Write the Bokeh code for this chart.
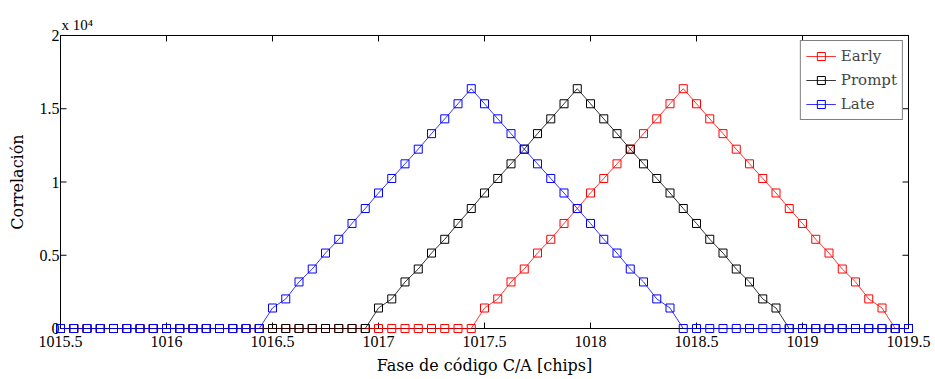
import math
from bokeh.plotting import figure
from bokeh.models import FixedTicker, Range1d, Legend, LegendItem, Title
from bokeh.embed import file_html
from bokeh.resources import INLINE

# ---------------- data ----------------
code_phase = [
    1015.5, 1015.5625, 1015.625, 1015.6875, 1015.75, 1015.8125, 1015.875, 1015.9375,
    1016.0, 1016.0625, 1016.125, 1016.1875, 1016.25, 1016.3125, 1016.375, 1016.4375,
    1016.5, 1016.5625, 1016.625, 1016.6875, 1016.75, 1016.8125, 1016.875, 1016.9375,
    1017.0, 1017.0625, 1017.125, 1017.1875, 1017.25, 1017.3125, 1017.375, 1017.4375,
    1017.5, 1017.5625, 1017.625, 1017.6875, 1017.75, 1017.8125, 1017.875, 1017.9375,
    1018.0, 1018.0625, 1018.125, 1018.1875, 1018.25, 1018.3125, 1018.375, 1018.4375,
    1018.5, 1018.5625, 1018.625, 1018.6875, 1018.75, 1018.8125, 1018.875, 1018.9375,
    1019.0, 1019.0625, 1019.125, 1019.1875, 1019.25, 1019.3125, 1019.375, 1019.4375,
    1019.5,
]

early = [
    0, 0, 0, 0, 0, 0, 0, 0, 0, 0, 0, 0, 0, 0, 0, 0,
    0, 0, 0, 0, 0, 0, 0, 0, 0, 0, 0, 0, 0, 0, 0, 0,
    1400, 2020, 3180, 4060, 5150, 6090, 7170, 8190, 9250, 10240, 11240, 12240, 13300, 14310, 15340, 16368,
    15340, 14310, 13300, 12240, 11240, 10240, 9250, 8190, 7170, 6090, 5150, 4060, 3180, 2020, 1400,
    0, 0,
]

prompt = [
    0, 0, 0, 0, 0, 0, 0, 0, 0, 0, 0, 0, 0, 0, 0, 0,
    0, 0, 0, 0, 0, 0, 0, 0,
    1400, 2020, 3180, 4060, 5150, 6090, 7170, 8190, 9250, 10240, 11240, 12240, 13300, 14310, 15340, 16368,
    15340, 14310, 13300, 12240, 11240, 10240, 9250, 8190, 7170, 6090, 5150, 4060, 3180, 2020, 1400,
    0, 0, 0, 0, 0, 0, 0, 0, 0, 0,
]

late = [
    0, 0, 0, 0, 0, 0, 0, 0, 0, 0, 0, 0, 0, 0, 0, 0,
    1400, 2020, 3180, 4060, 5150, 6090, 7170, 8190, 9250, 10240, 11240, 12240, 13300, 14310, 15340, 16368,
    15340, 14310, 13300, 12240, 11240, 10240, 9250, 8190, 7170, 6090, 5150, 4060, 3180, 2020, 1400,
    0, 0, 0, 0, 0, 0, 0, 0, 0, 0, 0, 0, 0, 0, 0, 0, 0, 0,
]

series_names = ["Early", "Prompt", "Late"]
series_colors = ["#ff0000", "#000000", "#0000ff"]

x_ticks = [1015.5, 1016, 1016.5, 1017, 1017.5, 1018, 1018.5, 1019, 1019.5]
x_tick_labels = ["1015.5", "1016", "1016.5", "1017", "1017.5", "1018", "1018.5", "1019", "1019.5"]
y_ticks = [0, 5000, 10000, 15000, 20000]
y_tick_labels = ["0", "0.5", "1", "1.5", "2"]

x_title = "Fase de código C/A [chips]"
y_title = "Correlación"
scale_note = "x 10\u2074"
# ---------------------------------------

assert len(early) == len(prompt) == len(late) == len(code_phase)

X0, X1 = x_ticks[0], x_ticks[-1]
Y0, Y1 = y_ticks[0], y_ticks[-1]
PAD = 5          # px of room around the axes box so edge markers are not clipped
FW, FH = 848, 294
dx = (X1 - X0) / FW * PAD
dy = (Y1 - Y0) / FH * PAD
TICK_LEN = 6

B_LEFT, B_RIGHT, B_TOP, B_BOTTOM = 55, 20, 30, 43

TICK_FONT = "Liberation Serif"
WORD_FONT = "DejaVu Serif"

p = figure(
    width=B_LEFT + FW + 2 * PAD + B_RIGHT, height=B_TOP + FH + 2 * PAD + B_BOTTOM,
    x_range=Range1d(X0 - dx, X1 + dx), y_range=Range1d(Y0 - dy, Y1 + dy),
    output_backend="svg", toolbar_location=None,
    min_border_left=B_LEFT, min_border_right=B_RIGHT,
    min_border_top=B_TOP, min_border_bottom=B_BOTTOM,
    x_axis_label=x_title, y_axis_label=y_title,
)
p.outline_line_color = None
p.xgrid.visible = False
p.ygrid.visible = False
p.background_fill_color = "white"
p.border_fill_color = "white"


def style_axis(ax, ticks, labels):
    ax.ticker = FixedTicker(ticks=ticks)
    ax.major_label_overrides = {t: l for t, l in zip(ticks, labels)}
    ax.major_tick_in = 0
    ax.major_tick_out = 0
    ax.major_tick_line_color = None
    ax.minor_tick_line_color = None
    ax.axis_line_color = None
    ax.major_label_text_font = TICK_FONT
    ax.major_label_text_font_size = "16px"
    ax.major_label_text_color = "black"
    ax.axis_label_text_font = WORD_FONT
    ax.axis_label_text_font_size = "16px"
    ax.axis_label_text_font_style = "normal"
    ax.axis_label_text_color = "black"


xa = p.xaxis[0]
ya = p.yaxis[0]
style_axis(xa, x_ticks, x_tick_labels)
style_axis(ya, y_ticks, y_tick_labels)
xa.major_label_standoff = 2
xa.axis_label_standoff = 6
ya.major_label_standoff = -4
ya.axis_label_standoff = 10

# axes box and inward ticks (MATLAB style)
p.quad(left=[X0], right=[X1], bottom=[Y0], top=[Y1], fill_color=None,
       line_color="black", line_width=1)
p.ray(x=x_ticks, y=[Y0] * len(x_ticks), length=TICK_LEN, length_units="screen",
      angle=math.pi / 2, line_color="black", line_width=1)
p.ray(x=x_ticks, y=[Y1] * len(x_ticks), length=TICK_LEN, length_units="screen",
      angle=-math.pi / 2, line_color="black", line_width=1)
p.ray(x=[X0] * len(y_ticks), y=y_ticks, length=TICK_LEN, length_units="screen",
      angle=0, line_color="black", line_width=1)
p.ray(x=[X1] * len(y_ticks), y=y_ticks, length=TICK_LEN, length_units="screen",
      angle=math.pi, line_color="black", line_width=1)

items = []
for name, vals, col in zip(series_names, [early, prompt, late], series_colors):
    lr = p.line(code_phase, vals, line_color=col, line_width=0.8)
    sr = p.scatter(code_phase, vals, marker="square", size=8, fill_color=None,
                   line_color=col, line_width=1)
    items.append(LegendItem(label=name, renderers=[lr, sr]))

legend = Legend(items=items, location="top_right")
legend.margin = 10
legend.padding = 5
legend.spacing = 4
legend.glyph_width = 30
legend.glyph_height = 20
legend.label_height = 20
legend.label_standoff = 5
legend.label_text_font = WORD_FONT
legend.label_text_font_size = "15px"
legend.border_line_color = "black"
legend.border_line_width = 1
legend.background_fill_alpha = 1
p.add_layout(legend, "center")

t = Title(text=scale_note, align="left", offset=PAD + 1, standoff=-4,
          text_font=TICK_FONT, text_font_size="15px", text_font_style="normal",
          text_color="black")
p.add_layout(t, "above")

open("out.html", "w").write(file_html(p, INLINE))
